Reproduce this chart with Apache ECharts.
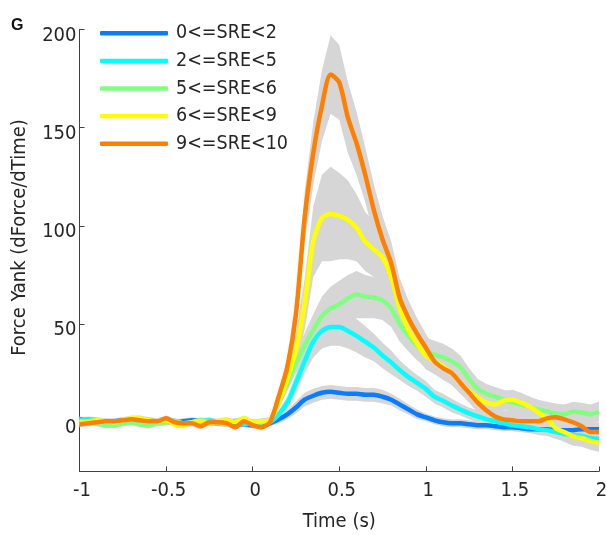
<!DOCTYPE html>
<html><head><meta charset="utf-8">
<script src="https://cdn.jsdelivr.net/npm/echarts@6/dist/echarts.min.js"></script>
<style>html,body{margin:0;padding:0;background:#fff}#c{width:606px;height:535px}</style>
</head><body><div id="c"></div>
<script>
const FONT = "'DejaVu Sans Condensed','DejaVu Sans',sans-serif";
const names = ['0<=SRE<2','2<=SRE<5','5<=SRE<6','6<=SRE<9','9<=SRE<10'];
const colors = ['#0a7cff','#00ffff','#80ff80','#ffff00','#ff8000'];
const time = Array.from({length:61}, (_, i) => String(+(-1 + i*0.05).toFixed(2)));
const yTicks = [0, 50, 100, 150, 200];

// means, t = -1 .. 2 step 0.05
const blueMean = [1.5,1,0.5,0,0.5,1,1,1.5,1,0.5,0.5,0,0.5,1,0.5,0,-0.5,0,-1,-1,-1.5,-1.5,
  -0.5,1.5,4,7.5,11.5,13.5,15,15.5,15,14.5, 14.5,14,14,13,11.5,9,6.5,4,2.5,1,
  0,-0.5,-0.5,-1,-1.5,-1.5,-2,-2.5,-2.5,-3, -3.5,-3.5,-3.5,-4,-4,-4,-3.5,-3.5,-3.5];
const cyanMean = [1,1.5,1,-0.5,-1,0,0.5,0,-0.5,0,1,0.5,-0.5,0,0.5,1,0,-0.5,0.5,-1,-0.5,-1,
  0,4,10,20,31,41,46.5,48.5,48.5,46.5, 44,41,38,34,30.5,26.5,23,20,17,13,
  11,8.5,6.5,4.5,3,1.5,0.5,-0.5,-1.5,-2, -2.5,-3.5,-4,-5,-6,-6.5,-7,-8,-8.5];
const greenMean = [0.5,0,-0.5,-1.5,-1.5,-0.5,0,-1,-1.5,-0.5,0,0.5,-0.5,0,1,0,-0.5,-1,0.5,1.5,-0.5,0,
  1,10,20,30,39,47,54,58,60,63, 65,64,63.5,62,58,50,44,39,36,34.5,
  33,31,28,22,17,14.5,13,11.5,10,9, 8,6.5,5.5,4.5,4,5.5,5,4,5.5];
const yellowMean = [0,0.5,1,0.5,0,1,2,2,1,0.5,1,-1,-1.5,0,0.5,-0.5,0.5,1,0,2,0,0.5,
  1,10,22,37,60,92,104,106,105,103, 99,92,88,84,74,58,47,40,34,31,
  28.5,25,20,16,12.5,10,9,11,11.5,10, 8,5,2,-3,-5,-7,-8,-9.5,-10.5];
const orangeMean = [-1,-0.5,0,0.5,0.5,1,1.5,1,0.5,0.5,2,0,-0.5,-0.5,-2,0,0,-0.5,-2.5,0.5,-1.5,-2.5,
  0,13,28,55,104,137,161,177,173,155, 142,126,108,93,81,63,53,45,38,31,
  27.5,25,20,15,10,6,3,1.5,1,0.5, 0.5,0.5,2,2.5,1.5,0,-2,-5,-5];

// standard-error half widths (grey bands)
const blueSem = [1.5,1.5,1.5,1.5,1.5,1.5,1.5,1.5,1.5,1.5,1.5,1.5,1.5,1.5,1.5,1.5,1.5,1.5,1.5,1.5,1.5,1.5,
  1.5,2,2.5,3,3.5,3.5,3.5,3.5,3.5,3.5, 3.5,3.5,3.5,3.5,3,3,2.5,2.5,2,2,
  2,2,2,2,2,2,2,2,2,2, 2,2,2,2,2,2.5,2.5,2.5,2.5];
const cyanSem = [1.5,1.5,1.5,1.5,1.5,1.5,1.5,1.5,1.5,1.5,1.5,1.5,1.5,1.5,1.5,1.5,1.5,1.5,1.5,1.5,1.5,1.5,
  1.5,2,3,4.5,6,8,9,9.5,9.5,9, 8.5,8,7,6.5,6,5,4.5,4,4,3.5,
  3.5,3.5,3,3,3,3,3,3,3,3, 3,3,3,3.5,3.5,3.5,4,4,4];
const greenSem = [1.5,1.5,1.5,1.5,1.5,1.5,1.5,1.5,1.5,1.5,1.5,1.5,1.5,1.5,1.5,1.5,1.5,1.5,1.5,1.5,1.5,1.5,
  1.5,2.5,4,5,6.5,8,10,11,12,12, 12,11,10.5,10,9.5,9,8,7.5,7,7,
  7,6.5,6,5.5,5,5,5,5,5,5, 5,5,5,5,5,5,5,5,5];
const yellowSem = [1.5,1.5,1.5,1.5,1.5,1.5,1.5,1.5,1.5,1.5,1.5,1.5,1.5,1.5,1.5,1.5,1.5,1.5,1.5,1.5,1.5,1.5,
  1.5,3,6,9,13,18,22,24,22,20, 17,15,14,13,12,10,9,8,7,6.5,
  6,6,5.5,5,5,5,5,5,5,5, 5,5,5,5,5,5,4.5,4.5,4.5];
const orangeSem = [1.5,1.5,1.5,1.5,1.5,1.5,1.5,1.5,1.5,1.5,1.5,1.5,1.5,1.5,1.5,1.5,1.5,1.5,1.5,1.5,1.5,1.5,
  1.5,3,5,9,13,16,18,20,19,18, 16,14,13,12,11,10,9,8,7,6.5,
  6,6,5.5,5,5,4.5,4.5,4.5,4.5,4.5, 4.5,4.5,4.5,4.5,4.5,4.5,4.5,5,5];

const means = [blueMean, cyanMean, greenMean, yellowMean, orangeMean];
const sems = [blueSem, cyanSem, greenSem, yellowSem, orangeSem];

const series = [];
means.forEach((m, k) => {
  const s = sems[k];
  series.push({type:'line', stack:'band'+k, stackStrategy:'all', silent:true, symbol:'none',
    data: m.map((v,i)=> v - s[i]), lineStyle:{opacity:0, width:0}, z:1});
  series.push({type:'line', stack:'band'+k, stackStrategy:'all', silent:true, symbol:'none',
    data: m.map((v,i)=> 2*s[i]), lineStyle:{opacity:0, width:0},
    areaStyle:{color:'#d6d6d6', opacity:1}, z:1});
});
means.forEach((m, k) => {
  series.push({type:'line', name:names[k], data:m, symbol:'none', smooth:0.25,
    lineStyle:{color:colors[k], width:4.5}, itemStyle:{color:colors[k]}, z:3});
});

const chart = echarts.init(document.getElementById('c'), null, {renderer:'canvas'});
chart.setOption({
  animation:false,
  backgroundColor:'#fff',
  textStyle:{fontFamily:FONT},
  grid:{left:79.5, right:7, top:29.3, bottom:63.6, containLabel:false, outerBoundsMode:'none'},
  legend:{
    data:names, orient:'vertical', left:100, top:23.3, padding:0,
    icon:'roundRect', itemWidth:68, itemHeight:4.5, itemGap:7.6,
    textStyle:{fontFamily:FONT, fontSize:19.5, color:'#262626', lineHeight:20, padding:[0,0,0,3]}
  },
  xAxis:{
    type:'category', data:time, boundaryGap:false,
    name:'Time (s)', nameLocation:'middle', nameGap:40,
    nameTextStyle:{fontFamily:FONT, fontSize:20, color:'#262626'},
    axisLine:{onZero:false, lineStyle:{color:'#404040', width:1}},
    axisTick:{inside:true, length:5, interval:9, lineStyle:{color:'#404040'}},
    axisLabel:{interval:9, fontFamily:FONT, fontSize:20, color:'#262626', margin:9, padding:[0,0,0,5]},
    splitLine:{show:false}
  },
  yAxis:{
    type:'value', min:-25, max:200,
    axisLine:{show:true, lineStyle:{color:'#404040', width:1}},
    axisTick:{show:true, inside:true, length:5, customValues:yTicks, lineStyle:{color:'#404040'}},
    axisLabel:{customValues:yTicks, margin:3, formatter:'{v|{value}}',
      rich:{v:{fontFamily:FONT, fontSize:20, color:'#262626', padding:[12,0,0,0]}}},
    splitLine:{show:false}
  },
  graphic:[
    {type:'text', left:11, top:18, style:{text:'G', font:"bold 16px 'Liberation Sans', sans-serif", fill:'#111'}},
    {type:'text', x:19.5, y:237.5, rotation:Math.PI/2,
      style:{text:'Force Yank (dForce/dTime)', font:"20px 'DejaVu Sans Condensed','DejaVu Sans',sans-serif",
        fill:'#262626', align:'center', verticalAlign:'middle'}}
  ],
  series:series
});
</script></body></html>
